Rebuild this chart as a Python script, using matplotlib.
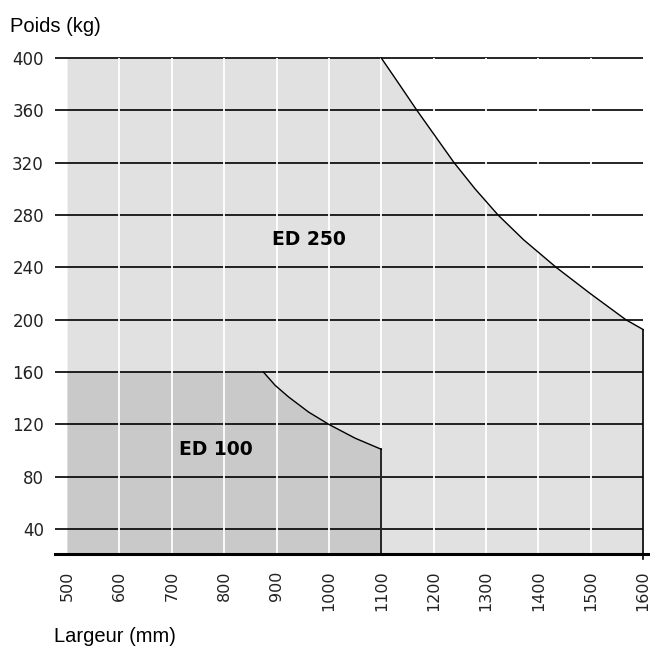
import matplotlib
matplotlib.use("Agg")
import matplotlib.pyplot as plt

# Data
ed250_x = [500, 1100, 1135, 1168, 1239, 1279, 1323, 1372, 1434, 1499, 1567, 1600]
ed250_y = [400, 400, 379.5, 360, 320, 300, 280, 261, 240, 220, 200, 192.5]
ed100_x = [500, 875, 897, 923, 961, 1000, 1050, 1100]
ed100_y = [160, 160, 150, 141, 129.5, 120, 109.5, 101]
y_ticks = [40, 80, 120, 160, 200, 240, 280, 320, 360, 400]
x_ticks = [500, 600, 700, 800, 900, 1000, 1100, 1200, 1300, 1400, 1500, 1600]
labels = ["ED 250", "ED 100"]

fig = plt.figure(figsize=(6.5, 6.47), dpi=100)
ax = fig.add_axes([55/650, 1-554/647, 595/650, (554-55.4)/647])
ax.set_xlim(477, 1613)
ax.set_ylim(21, 402)

c250 = "#e1e1e1"
c100 = "#c8c9c8"
base = ax.get_ylim()[0]

# ED 250 area
ax.fill_between(ed250_x, ed250_y, base, color=c250, lw=0, zorder=1)
ax.plot(ed250_x[1:], ed250_y[1:], color="black", lw=1.0, zorder=4)
ax.plot([ed250_x[-1], ed250_x[-1]], [ed250_y[-1], base - 4], color="black", lw=1.2,
        zorder=4, clip_on=False)

# ED 100 area
ax.fill_between(ed100_x, ed100_y, base, color=c100, lw=0, zorder=2)
ax.plot(ed100_x[1:], ed100_y[1:], color="black", lw=1.0, zorder=4)
ax.plot([ed100_x[-1], ed100_x[-1]], [ed100_y[-1], base], color="black", lw=1.2, zorder=4)

# horizontal grid lines
ax.hlines(y_ticks, 477, 1600, colors="black", lw=1.2, zorder=3)
# vertical white grid lines
ax.vlines(x_ticks[1:-1], base, 400, colors="white", lw=1.3, zorder=3.5)

ax.text(962, 261, labels[0], fontsize=13.5, fontweight="bold", family="DejaVu Sans",
        ha="center", va="center", zorder=5)
ax.text(785, 101, labels[1], fontsize=13.5, fontweight="bold", family="DejaVu Sans",
        ha="center", va="center", zorder=5)

for s in ["top", "right", "left"]:
    ax.spines[s].set_visible(False)
ax.spines["bottom"].set_linewidth(2.2)
ax.spines["bottom"].set_zorder(6)

ax.set_yticks(y_ticks)
ax.set_yticklabels([str(v) for v in y_ticks], fontsize=12, family="DejaVu Sans", color="#222222")
ax.set_xticks(x_ticks)
ax.set_xticklabels([str(v) for v in x_ticks], fontsize=11.5, family="DejaVu Sans",
                   rotation=90, color="#222222")
ax.tick_params(axis="both", length=0)
ax.tick_params(axis="y", pad=8)
ax.tick_params(axis="x", pad=12)

fig.text(10/650, 1-27/647, "Poids (kg)", fontsize=14.5, family="Liberation Sans",
         ha="left", va="center")
fig.text(54/650, 1-636/647, "Largeur (mm)", fontsize=14.5, family="Liberation Sans",
         ha="left", va="center")

fig.savefig("out.png", dpi=100)
